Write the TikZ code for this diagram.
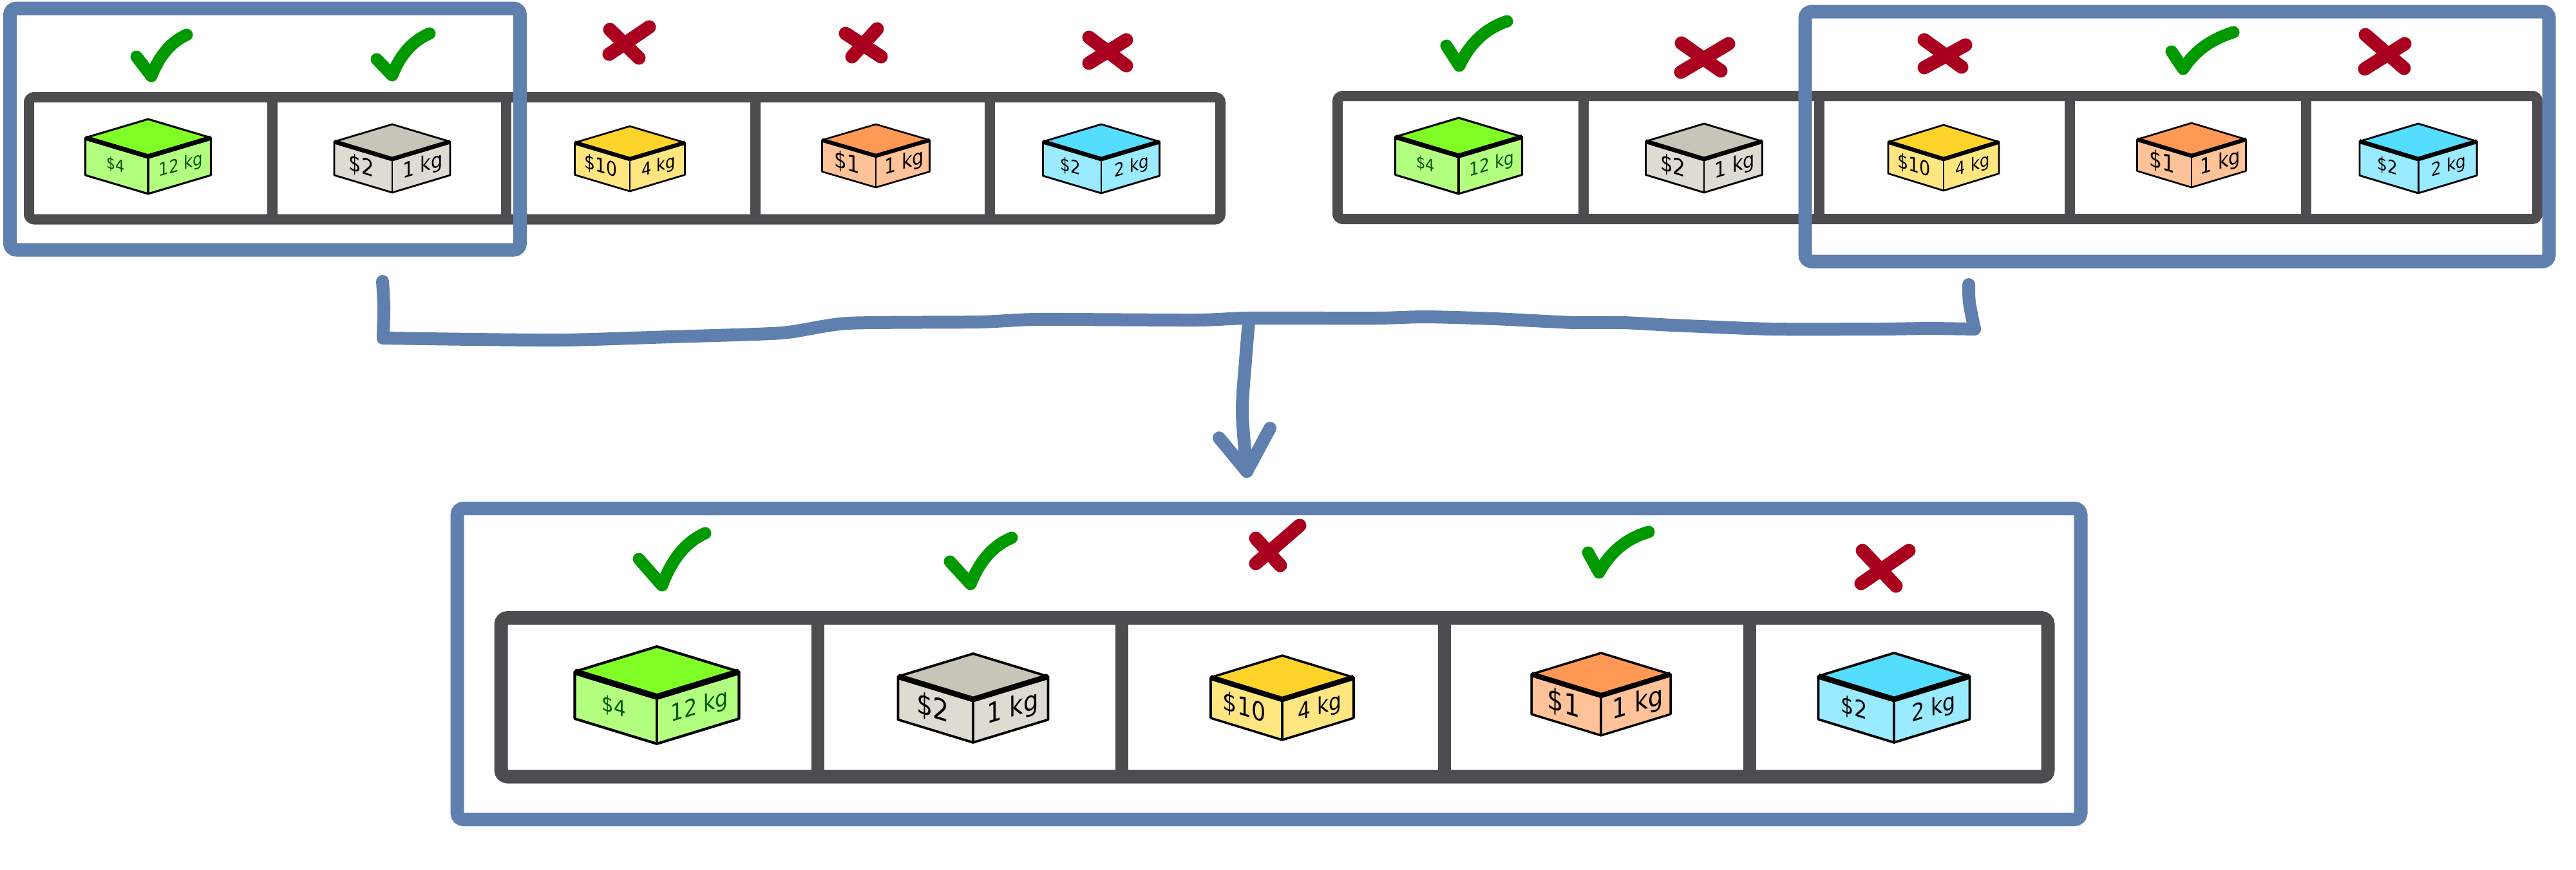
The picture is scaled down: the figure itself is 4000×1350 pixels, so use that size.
\documentclass[tikz,border=0pt]{standalone}
\usepackage{fontspec}
\setmainfont{DejaVu Sans}
\newfontfamily\faceLeft[FakeSlant=-0.3, FakeStretch=0.95]{DejaVu Sans}
\newfontfamily\faceRight[FakeSlant=0.3, FakeStretch=0.95]{DejaVu Sans}

\definecolor{frameBlue}{HTML}{5F80AE}
\definecolor{trayGray}{HTML}{4D4D4F}
\definecolor{tickGreen}{HTML}{009900}
\definecolor{crossRed}{HTML}{AA001F}

\newcommand{\tiltLeft}[1]{\rotatebox[origin=c]{-\tilt}{\scalebox{\zoomf}{#1}}}
\newcommand{\tiltRight}[1]{\rotatebox[origin=c]{\tilt}{\scalebox{\zoomf}{#1}}}

\newcommand{\crate}[7]{%
    \pgfmathsetmacro{\shoulder}{(#4+#5)/2}
    \pgfmathsetmacro{\faceh}{#6-#5}
    \pgfmathsetmacro{\tilt}{atan((#5-\shoulder)/#3)}
    \pgfmathsetmacro{\thin}{#3*0.032}
    \pgfmathsetmacro{\thick}{#3*0.075}
    \pgfmathsetmacro{\zoomf}{#3/100}
    \pgfmathsetmacro{\midy}{(\shoulder+#5+\faceh)/2}
    \fill[side#7] (#2-#3,\shoulder) -- (#2,#5) -- (#2+#3,\shoulder) -- (#2+#3,\shoulder+\faceh) -- (#2,#6) -- (#2-#3,\shoulder+\faceh) -- cycle;
    \fill[top#7] (#2-#3,\shoulder) -- (#2,#4) -- (#2+#3,\shoulder) -- (#2,#5) -- cycle;
    \draw[line width=\thin pt, line join=round] (#2-#3,\shoulder) -- (#2,#4) -- (#2+#3,\shoulder) -- (#2+#3,\shoulder+\faceh) -- (#2,#6) -- (#2-#3,\shoulder+\faceh) -- cycle;
    \draw[line width=\thin pt] (#2,#5) -- (#2,#6);
    \draw[line width=\thick pt] (#2-#3,\shoulder) -- (#2,#5) -- (#2+#3,\shoulder);
    \node[name=#1price, at={(#2-#3/2,\midy)}, label box, price#7];
    \node[name=#1weight, at={(#2+#3/2,\midy)}, label box, weight#7];
}

\begin{document}
\begin{tikzpicture}[
    x=1pt, y=-1pt,
    tray/.style={draw=trayGray, line width=16pt, rounded corners=8pt, outer sep=0pt, inner sep=0pt},
    trayWall/.style={draw=trayGray, line width=16pt},
    frame/.style={draw=frameBlue, line width=21pt, rounded corners=10pt, outer sep=0pt, inner sep=0pt},
    bluePen/.style={draw=frameBlue, line width=20pt, line cap=round, line join=round},
    tickMark/.style={draw=tickGreen, line width=19pt, line cap=round, line join=round},
    crossMark/.style={draw=crossRed, line width=21pt, line cap=round},
    label box/.style={inner sep=0pt, outer sep=0pt},
    topgreen/.style={fill={rgb,255:red,128;green,255;blue,38}},
    sidegreen/.style={fill={rgb,255:red,179;green,255;blue,128}},
    topgray/.style={fill={rgb,255:red,200;green,196;blue,183}},
    sidegray/.style={fill={rgb,255:red,222;green,219;blue,211}},
    topyellow/.style={fill={rgb,255:red,255;green,212;blue,42}},
    sideyellow/.style={fill={rgb,255:red,255;green,230;blue,128}},
    toporange/.style={fill={rgb,255:red,255;green,153;blue,85}},
    sideorange/.style={fill={rgb,255:red,255;green,194;blue,153}},
    topsky/.style={fill={rgb,255:red,85;green,221;blue,255}},
    sidesky/.style={fill={rgb,255:red,154;green,235;blue,255}},
    pricegreen/.style={font=\faceLeft\fontsize{25}{25}\selectfont, text=green!35!black, node contents={\tiltLeft{\$4}}},
    weightgreen/.style={font=\faceRight\fontsize{27.5}{28}\selectfont, text=green!35!black, node contents={\tiltRight{12 kg}}},
    pricegray/.style={font=\faceLeft\fontsize{37.4}{38}\selectfont, node contents={\tiltLeft{\$2}}},
    weightgray/.style={font=\faceRight\fontsize{35}{35}\selectfont, node contents={\tiltRight{1 kg}}},
    priceyellow/.style={font=\faceLeft\fontsize{34.4}{35}\selectfont, node contents={\tiltLeft{\$10}}},
    weightyellow/.style={font=\faceRight\fontsize{31}{31}\selectfont, node contents={\tiltRight{4 kg}}},
    priceorange/.style={font=\faceLeft\fontsize{40.7}{41}\selectfont, node contents={\tiltLeft{\$1}}},
    weightorange/.style={font=\faceRight\fontsize{37.4}{38}\selectfont, node contents={\tiltRight{1 kg}}},
    pricesky/.style={font=\faceLeft\fontsize{29.8}{30}\selectfont, node contents={\tiltLeft{\$2}}},
    weightsky/.style={font=\faceRight\fontsize{29.8}{30}\selectfont, node contents={\tiltRight{2 kg}}},
    ]
    \useasboundingbox (0,0) rectangle (4000,1350);

    \node[tray, minimum width=1850pt, minimum height=189.5pt] (trayLeft) at (970,245.75) {};
    \node[tray, minimum width=1863pt, minimum height=191pt] (trayRight) at (3008.5,244.5) {};
    \node[tray, line width=21pt, rounded corners=10pt, minimum width=2402pt, minimum height=246.5pt] (trayResult) at (1979,1082.75) {};
    \foreach \wall in {423,786,1173,1537}
        \draw[trayWall] (\wall,0 |- trayLeft.north) -- (\wall,0 |- trayLeft.south);
    \foreach \wall in {2459,2825,3214,3581}
        \draw[trayWall] (\wall,0 |- trayRight.north) -- (\wall,0 |- trayRight.south);
    \foreach \wall in {1270,1742,2243,2717}
        \draw[trayWall, line width=20pt] (\wall,0 |- trayResult.north) -- (\wall,0 |- trayResult.south);

    \crate{leftA}{230}{97.5}{185}{243}{301}{green}
    \crate{leftB}{609}{90}{193}{247}{299}{gray}
    \crate{leftC}{978}{85.5}{196}{247}{297}{yellow}
    \crate{leftD}{1360}{83.5}{193}{242}{291}{orange}
    \crate{leftE}{1710}{90.5}{193}{247}{300}{sky}

    \crate{rightA}{2265}{98.5}{183}{242}{301}{green}
    \crate{rightB}{2646}{90.5}{192}{247}{299}{gray}
    \crate{rightC}{3018}{86}{194}{247}{296}{yellow}
    \crate{rightD}{3403}{84.5}{191}{242}{291}{orange}
    \crate{rightE}{3755}{91}{192}{247}{300}{sky}

    \crate{resultA}{1020}{127.5}{1004}{1082}{1155}{green}
    \crate{resultB}{1511}{116.5}{1015}{1086}{1153}{gray}
    \crate{resultC}{1991}{111}{1018}{1086}{1149}{yellow}
    \crate{resultD}{2486}{108}{1014}{1080}{1142}{orange}
    \crate{resultE}{2941}{117.5}{1014}{1086}{1153}{sky}

    \node[frame, minimum width=792pt, minimum height=375pt] (frameLeft) at (411.5,200.5) {};
    \node[frame, minimum width=1155pt, minimum height=388pt] (frameRight) at (3380.5,212) {};
    \node[frame, minimum width=2521pt, minimum height=483pt] (frameResult) at (1970.5,1031) {};

    \draw[tickMark] (212,88) -- (235,118) .. controls (249,83) and (268,64) .. (290,54);
    \draw[tickMark] (585,92) -- (609,117) .. controls (623,81) and (644,62) .. (667,52);
    \draw[crossMark] (947,46) -- (992,90) (1008,42) -- (946,84);
    \draw[crossMark] (1313,52) -- (1368,88) (1362,45) -- (1323,88);
    \draw[crossMark] (1691,58) -- (1749,102) (1749,62) -- (1691,98);

    \draw[tickMark] (2246,71) -- (2266,102) .. controls (2284,64) and (2310,43) .. (2340,33);
    \draw[crossMark] (2611,67) -- (2672,110) (2684,68) -- (2610,112);
    \draw[crossMark] (2988,62) -- (3046,104) (3052,70) -- (2988,105);
    \draw[tickMark] (3372,80) -- (3390,107) .. controls (3410,76) and (3437,60) .. (3468,50);
    \draw[crossMark] (3673,54) -- (3733,106) (3734,68) -- (3672,107);

    \draw[tickMark] (992,868) -- (1028,909) .. controls (1045,864) and (1068,840) .. (1095,828);
    \draw[tickMark] (1475,872) -- (1507,907) .. controls (1523,867) and (1545,846) .. (1571,835);
    \draw[crossMark] (1950,836) -- (1988,878) (2018,816) -- (1950,875);
    \draw[tickMark] (2466,858) -- (2483,889) .. controls (2502,854) and (2529,835) .. (2560,826);
    \draw[crossMark] (2892,855) -- (2944,910) (2964,855) -- (2890,906);

    \coordinate (stubLeft) at (594,437);
    \coordinate (cornerLeft) at (595,525);
    \coordinate (stubRight) at (3057,442);
    \coordinate (cornerRight) at (3066,511);
    \coordinate (junction) at (1939,500);
    \coordinate (arrowTip) at (1936,732);
    \coordinate (barbLeft) at (1893,680);
    \coordinate (barbRight) at (1972,665);

    \draw[bluePen] plot[smooth, tension=.5] coordinates {(stubLeft) (596,475) (cornerLeft)};
    \draw[bluePen] plot[smooth, tension=.5] coordinates {(stubRight) (3058,470) (cornerRight)};
    \draw[bluePen] plot[smooth, tension=.4] coordinates {(cornerLeft) (735,527) (878,528) (1041,523) (1214,517) (1316,502) (1520,500) (1612,496) (1857,497) (1939,494) (2138,494) (2214,492) (2321,495) (2444,501) (2520,501) (2597,505) (2750,511) (2918,511) (2995,510) (cornerRight)};
    \draw[bluePen] plot[smooth, tension=.5] coordinates {(junction) (1934,560) (1929,640) (arrowTip)};
    \draw[bluePen] (barbLeft) -- (arrowTip) -- (barbRight);
\end{tikzpicture}
\end{document}
